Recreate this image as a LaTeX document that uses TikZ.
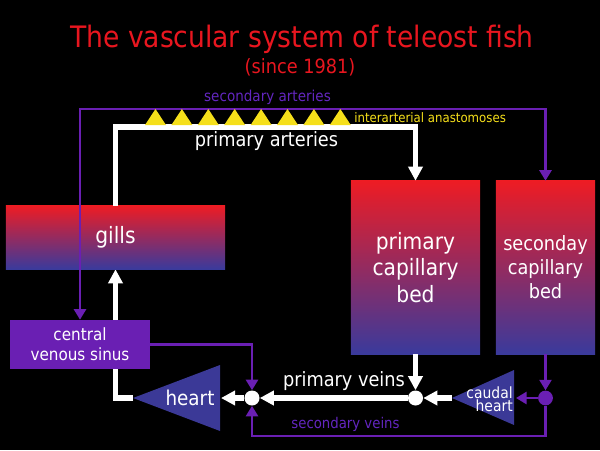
\documentclass[tikz,border=0pt]{standalone}
\usepackage{fontspec}
\setmainfont{DejaVu Sans Condensed}
\usetikzlibrary{arrows.meta}
\pgfdeclarelayer{bg}
\pgfsetlayers{bg,main}
\definecolor{titlered}{HTML}{E8161F}
\definecolor{bedred}{HTML}{ED1C24}
\definecolor{bedblue}{HTML}{3A3A9C}
\definecolor{vpurple}{HTML}{6A1FB3}
\definecolor{slabel}{HTML}{6326C0}
\definecolor{heartblue}{HTML}{3B3997}
\definecolor{anayellow}{HTML}{F5DF1A}
\tikzset{
    every node/.style={inner sep=0mm, text=white, align=center},
    bed/.style={rectangle, top color=bedred, bottom color=bedblue, draw=none},
    wline/.style={draw=white, line width=3.6pt},
    warrow/.style={wline, -{Triangle[length=10pt, width=10pt]}},
    pline/.style={draw=vpurple, line width=2.1pt},
    parrow/.style={pline, -{Triangle[length=7.5pt, width=8.5pt]}},
    wdot/.style={circle, fill=white, minimum size=0.375cm},
    pdot/.style={circle, fill=vpurple, minimum size=0.37cm}
}

\begin{document}
\begin{tikzpicture}[x=0.025cm, y=-0.025cm]
    \useasboundingbox (0,0) rectangle (600,450);
    \begin{pgfonlayer}{bg}
        \fill [black] (0,0) rectangle (600,450);
    \end{pgfonlayer}

    \node (title) [anchor=base, text=titlered, font=\fontsize{21}{25}\selectfont] at (302,47) {The vascular system of teleost fish};
    \node (since) [anchor=base, text=titlered, font=\fontsize{14}{16}\selectfont] at (300,73) {(since 1981)};

    \node (gills) [bed, minimum width=5.475cm, minimum height=1.575cm, font=\fontsize{16}{19}\selectfont] at (115.5,237.5) {gills};
    \node (pcb) [bed, minimum width=3.225cm, minimum height=4.325cm, font=\fontsize{16}{19}\selectfont] at (415.5,267.5) {primary\\capillary\\bed};
    \node (scb) [bed, minimum width=2.475cm, minimum height=4.325cm, font=\fontsize{14}{17}\selectfont] at (545.5,267.5) {seconday\\capillary\\bed};
    \node (sinus) [fill=vpurple, minimum width=3.5cm, minimum height=1.225cm, font=\fontsize{12}{14}\selectfont] at (80,344.5) {central\\venous sinus};

    % hearts
    \fill [heartblue] (133,398) -- (220,365) -- (220,431) -- cycle;
    \fill [heartblue] (452,398) -- (514,370) -- (514,425) -- cycle;
    \node (heart) [font=\fontsize{14.5}{17}\selectfont] at (190,398) {heart};
    \node (cheart) [anchor=east, align=right, font=\fontsize{11}{8}\selectfont] at (513,399) {caudal\\heart};
    \coordinate (htip) at (133,398);
    \coordinate (hbase) at (221,398);
    \coordinate (ctip) at (452,398);
    \coordinate (cbase) at (516,398);

    \node (ldot) [wdot] at (252,398) {};
    \node (rdot) [wdot] at (415.5,398) {};
    \node (cdot) [pdot] at (545.5,398) {};

    \coordinate (pa) at (265,127);
    \coordinate (sa) at (300,109);
    \coordinate (sv) at (400,436);

    \begin{pgfonlayer}{bg}
        \draw [warrow] (htip) -| (gills.south);
    \end{pgfonlayer}

    \draw [warrow] (gills.north) |- (pa) -| (pcb.north);
    \draw [parrow] (sa) -| (sinus.north);
    \draw [parrow] (sa) -| (scb.north);

    \foreach \i in {0,...,7}
        \fill [anayellow] (145+26.4*\i,125) -- ++(21,0) -- ++(-10.5,-16) -- cycle;

    \draw [parrow] (sinus.east) -| (ldot.north);
    \draw [warrow] (ldot) -- (hbase);
    \draw [warrow] (rdot) -- (ldot);
    \draw [warrow] (pcb.south) -- (rdot);
    \draw [warrow] (ctip) -- (rdot);
    \draw [parrow] (scb.south) -- (cdot);
    \draw [parrow] (cdot) -- (cbase);
    \draw [parrow] (cdot.south) |- (sv) -| (ldot.south);

    % labels
    \node (sartl) [text=slabel, font=\fontsize{10.7}{13}\selectfont] at (267.5,97) {secondary arteries};
    \node (anal) [anchor=west, text=anayellow, font=\fontsize{9.3}{11}\selectfont] at (354,118) {interarterial anastomoses};
    \node (partl) [font=\fontsize{14}{16}\selectfont] at (266.5,141) {primary arteries};
    \node (pveinl) [font=\fontsize{14}{16}\selectfont] at (344,381) {primary veins};
    \node (sveinl) [text=slabel, font=\fontsize{10.5}{13}\selectfont] at (345.5,424) {secondary veins};
\end{tikzpicture}
\end{document}
